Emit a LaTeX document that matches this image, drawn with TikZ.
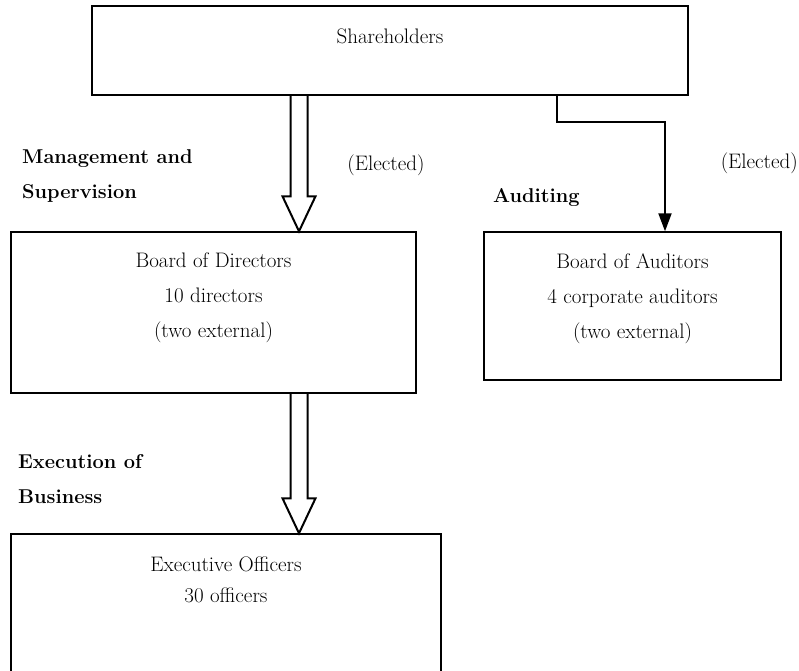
\documentclass[tikz,border=0pt]{standalone}
\usepackage{tikz}
\usetikzlibrary{arrows.meta,calc}
\newcommand{\fatarrow}[2]{%
	\draw[fat] let \p1=(#1), \p2=(#2) in
	(\x1-8.5pt,\y1) -- (\x1-8.5pt,\y2+35pt) -- (\x1-16.5pt,\y2+35pt) -- (\x1,\y2)
	-- (\x1+16.5pt,\y2+35pt) -- (\x1+8.5pt,\y2+35pt) -- (\x1+8.5pt,\y1);}
\begin{document}
\begin{tikzpicture}[x=1pt,y=-1pt,
	box/.style={draw,line width=1.4pt,rectangle,inner sep=0pt},
	txt/.style={align=center,inner sep=0pt,font=\fontsize{21}{35}\selectfont},
	lbl/.style={align=left,anchor=west,inner sep=0pt,font=\fontsize{20}{35}\selectfont\bfseries},
	fat/.style={line width=2pt,line join=miter},
	elect/.style={line width=2pt,-{Triangle[length=18pt,width=13pt]}}]
	\clip (0,0) rectangle (799,670);
	\node[box,minimum width=596pt,minimum height=89pt] (share) at (390,50.5) {};
	\node[box,minimum width=405pt,minimum height=161pt] (board) at (213.5,312.5) {};
	\node[box,minimum width=297pt,minimum height=148pt] (audit) at (632.5,306) {};
	\node[box,minimum width=430pt,minimum height=200pt] (exec) at (226,634) {};
	\node[txt] (sharetxt) at ([yshift=-31pt]share.north) {Shareholders};
	\node[txt] (boardtxt) at ([yshift=-66pt]board.north) {Board of Directors\\10 directors\\(two external)};
	\node[txt] (audittxt) at ([yshift=-67pt]audit.north) {Board of Auditors\\4 corporate auditors\\(two external)};
	\node[txt,font=\fontsize{21}{31}\selectfont] (exectxt) at ([yshift=-46pt]exec.north) {Executive Officers\\30 officers};
	\node[lbl] (mgmt) at (22,175.5) {Management and\\Supervision};
	\node[lbl] (execb) at (18,479.5) {Execution of\\Business};
	\node[lbl] (auditing) at (493,198) {Auditing};
	\node[txt] (elect1) at (386,165) {(Elected)};
	\node[txt,anchor=east] (elect2) at (798,163) {(Elected)};
	\coordinate (axis) at (299,0);
	\coordinate (abranch) at (557,122);
	\coordinate (ajoin) at (665,122);
	\fatarrow{share.south -| axis}{board.north -| axis}
	\fatarrow{board.south -| axis}{exec.north -| axis}
	\draw[elect] (share.south -| abranch) -- (abranch) -- (ajoin) -- (audit.north -| ajoin);
\end{tikzpicture}
\end{document}
